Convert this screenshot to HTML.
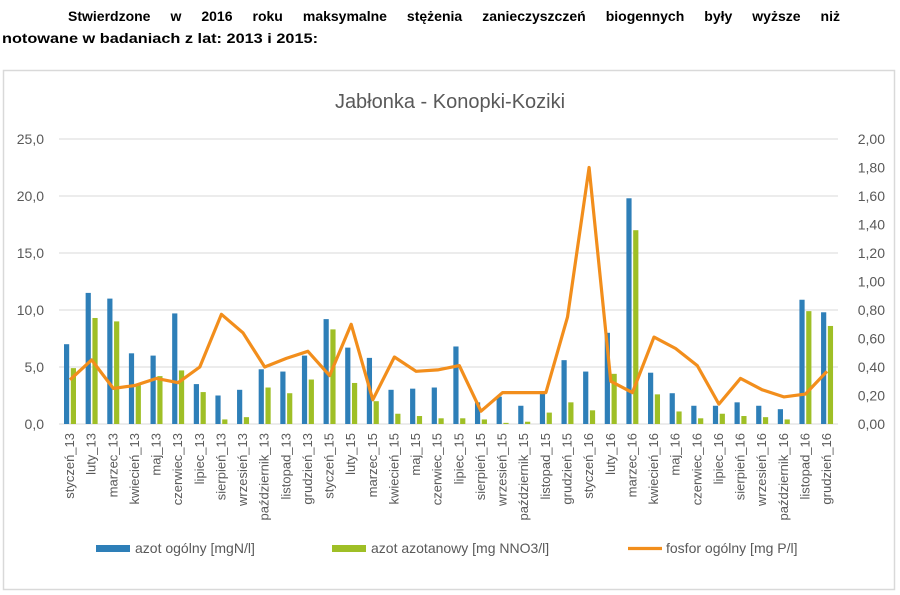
<!DOCTYPE html>
<html><head><meta charset="utf-8"><style>
html,body{margin:0;padding:0;background:#fff;width:900px;height:595px;overflow:hidden;position:relative}
svg{display:block;font-family:"Liberation Sans",sans-serif}
#h1{position:absolute;left:68px;top:7px;width:772px;font:bold 14px "Liberation Sans",sans-serif;text-align:justify;text-align-last:justify;white-space:nowrap;color:#000;line-height:18px}
</style></head><body>
<svg id="s" width="900" height="595" viewBox="0 0 900 595">
<text x="2" y="43" font-size="14" font-weight="bold" fill="#000" textLength="316" lengthAdjust="spacingAndGlyphs">notowane w badaniach z lat: 2013 i 2015:</text>
<rect x="3.5" y="70.5" width="891" height="519" fill="#fff" stroke="#d9d9d9" stroke-width="1.5"/>
<text x="450" y="108" font-size="20" fill="#595959" text-anchor="middle">Jabłonka - Konopki-Koziki</text>
<g stroke="#d9d9d9" stroke-width="1">
<line x1="59" x2="838" y1="139" y2="139"/><line x1="59" x2="838" y1="196" y2="196"/>
<line x1="59" x2="838" y1="253" y2="253"/><line x1="59" x2="838" y1="310" y2="310"/>
<line x1="59" x2="838" y1="367" y2="367"/><line x1="59" x2="838" y1="424" y2="424"/>
</g>
<g font-size="14" fill="#595959" text-anchor="end">
<text x="44" y="144">25,0</text><text x="44" y="201">20,0</text><text x="44" y="258">15,0</text>
<text x="44" y="315">10,0</text><text x="44" y="372">5,0</text><text x="44" y="429">0,0</text>
</g>
<g font-size="14" fill="#595959" text-anchor="end">
<text x="885" y="144">2,00</text><text x="885" y="172.5">1,80</text><text x="885" y="201">1,60</text>
<text x="885" y="229.5">1,40</text><text x="885" y="258">1,20</text><text x="885" y="286.5">1,00</text>
<text x="885" y="315">0,80</text><text x="885" y="343.5">0,60</text><text x="885" y="372">0,40</text>
<text x="885" y="400.5">0,20</text><text x="885" y="429">0,00</text>
</g>
<g id="bars"></g>
<polyline id="ln" fill="none" stroke="#f28e1c" stroke-width="3.2" stroke-linejoin="round"/>
<g font-size="13" fill="#595959" text-anchor="end">
<text transform="translate(74,433) rotate(-90)">styczeń_13</text>
<text transform="translate(95.6,433) rotate(-90)">luty_13</text>
<text transform="translate(117.3,433) rotate(-90)">marzec_13</text>
<text transform="translate(138.9,433) rotate(-90)">kwiecień_13</text>
<text transform="translate(160.5,433) rotate(-90)">maj_13</text>
<text transform="translate(182.2,433) rotate(-90)">czerwiec_13</text>
<text transform="translate(203.8,433) rotate(-90)">lipiec_13</text>
<text transform="translate(225.4,433) rotate(-90)">sierpień_13</text>
<text transform="translate(247,433) rotate(-90)">wrzesień_13</text>
<text transform="translate(268.7,433) rotate(-90)">październik_13</text>
<text transform="translate(290.3,433) rotate(-90)">listopad_13</text>
<text transform="translate(311.9,433) rotate(-90)">grudzień_13</text>
<text transform="translate(333.6,433) rotate(-90)">styczeń_15</text>
<text transform="translate(355.2,433) rotate(-90)">luty_15</text>
<text transform="translate(376.8,433) rotate(-90)">marzec_15</text>
<text transform="translate(398.5,433) rotate(-90)">kwiecień_15</text>
<text transform="translate(420.1,433) rotate(-90)">maj_15</text>
<text transform="translate(441.7,433) rotate(-90)">czerwiec_15</text>
<text transform="translate(463.3,433) rotate(-90)">lipiec_15</text>
<text transform="translate(485,433) rotate(-90)">sierpień_15</text>
<text transform="translate(506.6,433) rotate(-90)">wrzesień_15</text>
<text transform="translate(528.2,433) rotate(-90)">październik_15</text>
<text transform="translate(549.9,433) rotate(-90)">listopad_15</text>
<text transform="translate(571.5,433) rotate(-90)">grudzień_15</text>
<text transform="translate(593.1,433) rotate(-90)">styczeń_16</text>
<text transform="translate(614.8,433) rotate(-90)">luty_16</text>
<text transform="translate(636.4,433) rotate(-90)">marzec_16</text>
<text transform="translate(658,433) rotate(-90)">kwiecień_16</text>
<text transform="translate(679.6,433) rotate(-90)">maj_16</text>
<text transform="translate(701.3,433) rotate(-90)">czerwiec_16</text>
<text transform="translate(722.9,433) rotate(-90)">lipiec_16</text>
<text transform="translate(744.5,433) rotate(-90)">sierpień_16</text>
<text transform="translate(766.2,433) rotate(-90)">wrzesień_16</text>
<text transform="translate(787.8,433) rotate(-90)">październik_16</text>
<text transform="translate(809.4,433) rotate(-90)">listopad_16</text>
<text transform="translate(831.1,433) rotate(-90)">grudzień_16</text>
</g>
<rect x="96" y="545" width="34" height="7" fill="#2e7fb8"/>
<text x="135" y="553" font-size="14" fill="#595959">azot ogólny [mgN/l]</text>
<rect x="332" y="545" width="34" height="7" fill="#9fbf26"/>
<text x="371" y="553" font-size="14" fill="#595959">azot azotanowy [mg NNO3/l]</text>
<line x1="628" x2="662" y1="548.5" y2="548.5" stroke="#f28e1c" stroke-width="3.2"/>
<text x="666" y="553" font-size="14" fill="#595959">fosfor ogólny [mg P/l]</text>
</svg>
<div id="h1">Stwierdzone w 2016 roku maksymalne stężenia zanieczyszczeń biogennych były wyższe niż</div>
<script>
var B=[7.0,11.5,11.0,6.2,6.0,9.7,3.5,2.5,3.0,4.8,4.6,6.0,9.2,6.7,5.8,3.0,3.1,3.2,6.8,1.9,2.4,1.6,2.8,5.6,4.6,8.0,19.8,4.5,2.7,1.6,1.6,1.9,1.6,1.3,10.9,9.8];
var G=[4.9,9.3,9.0,3.4,4.2,4.7,2.8,0.4,0.6,3.2,2.7,3.9,8.3,3.6,2.0,0.9,0.7,0.5,0.5,0.4,0.1,0.2,1.0,1.9,1.2,4.4,17.0,2.6,1.1,0.5,0.9,0.7,0.6,0.4,9.9,8.6];
var P=[0.31,0.45,0.25,0.27,0.32,0.29,0.40,0.77,0.64,0.40,0.46,0.51,0.34,0.70,0.17,0.47,0.37,0.38,0.41,0.09,0.22,0.22,0.22,0.75,1.80,0.30,0.22,0.61,0.53,0.41,0.14,0.32,0.24,0.19,0.21,0.37];
var ns="http://www.w3.org/2000/svg",g=document.getElementById("bars"),pts=[];
function r(x,v,c){var e=document.createElementNS(ns,"rect");var h=v*11.4;e.setAttribute("x",x);e.setAttribute("y",424-h);e.setAttribute("width",5.2);e.setAttribute("height",h);e.setAttribute("fill",c);g.appendChild(e);}
for(var i=0;i<36;i++){var cx=70+i*21.63;
r(cx-6,B[i],"#2e7fb8");r(cx+0.8,G[i],"#9fbf26");
pts.push(cx.toFixed(1)+","+(424-P[i]*142.5).toFixed(1));}
document.getElementById("ln").setAttribute("points",pts.join(" "));
</script>
</body></html>
